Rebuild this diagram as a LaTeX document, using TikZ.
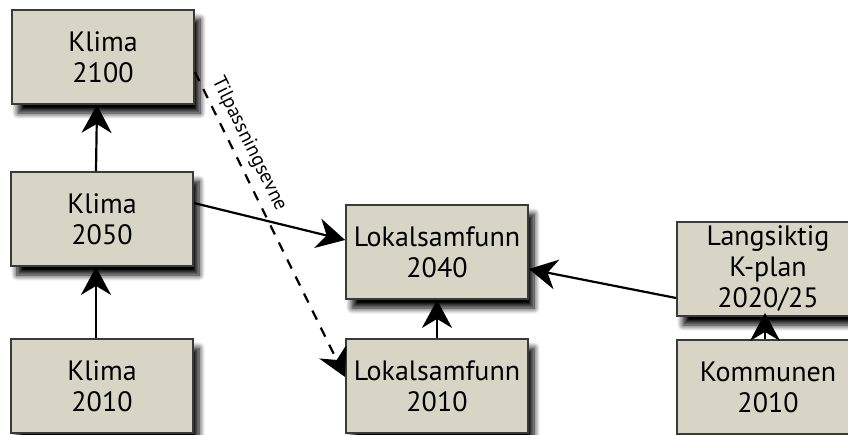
\documentclass[tikz,border=0pt]{standalone}
\usepackage{fontspec}
\setmainfont{PT Sans}
\usepackage{tikz}
\usetikzlibrary{positioning,arrows.meta,shadows.blur}
\definecolor{boxfill}{RGB}{217,213,198}
\definecolor{boxline}{RGB}{58,58,58}
\tikzset{stage/.style={rectangle, draw=boxline, fill=boxfill, line width=1.8pt,
  minimum width=182pt, minimum height=94pt, inner sep=0pt, align=center,
  font=\fontsize{28}{31}\selectfont,
  blur shadow={shadow xshift=6pt, shadow yshift=-9pt, shadow blur radius=6pt,
    shadow blur steps=8, shadow opacity=100, shadow blur extra rounding=0pt}}}
\tikzset{link/.style={line width=2.2pt, -{Stealth[length=28pt, width=30pt, inset=9pt]}}}
\tikzset{maybe/.style={link, dash pattern=on 10pt off 9pt}}

\begin{document}
\begin{tikzpicture}[x=1pt,y=-1pt]
  \useasboundingbox (0,0) rectangle (848,434);
  \node[stage] (k2100) at (103,57)  {Klima\\2100};
  \node[stage] (k2050) at (102,219) {Klima\\2050};
  \node[stage] (k2010) at (102,386) {Klima\\2010};
  \node[stage] (l2040) at (437,252) {Lokalsamfunn\\2040};
  \node[stage] (l2010) at (437,386) {Lokalsamfunn\\2010};
  \node[stage] (kplan) at (768,269) {Langsiktig\\K-plan\\2020/25};
  \node[stage] (komm)  at (768,387) {Kommunen\\2010};
  \draw [link] ([xshift=-6pt]k2010.north) -- ([xshift=-6pt]k2050.south);
  \draw [link] ([xshift=-6pt]k2050.north) -- ([xshift=-6pt]k2100.south);
  \draw [link] (l2010.north) -- (l2040.south);
  \draw [link] ([xshift=-3pt]komm.north) -- ([xshift=-3pt,yshift=4pt]kplan.south);
  \draw [link] ([yshift=16pt]k2050.east) -- ([yshift=12pt]l2040.west);
  \draw [link] ([yshift=-29pt]kplan.west) -- ([yshift=-17pt]l2040.east);
  \draw [maybe] ([yshift=-15pt]k2100.east) -- ([yshift=9pt]l2010.west)
    node [pos=0.26, sloped, above=3pt, font=\fontsize{20}{22}\selectfont] {Tilpassningsevne};
\end{tikzpicture}
\end{document}
